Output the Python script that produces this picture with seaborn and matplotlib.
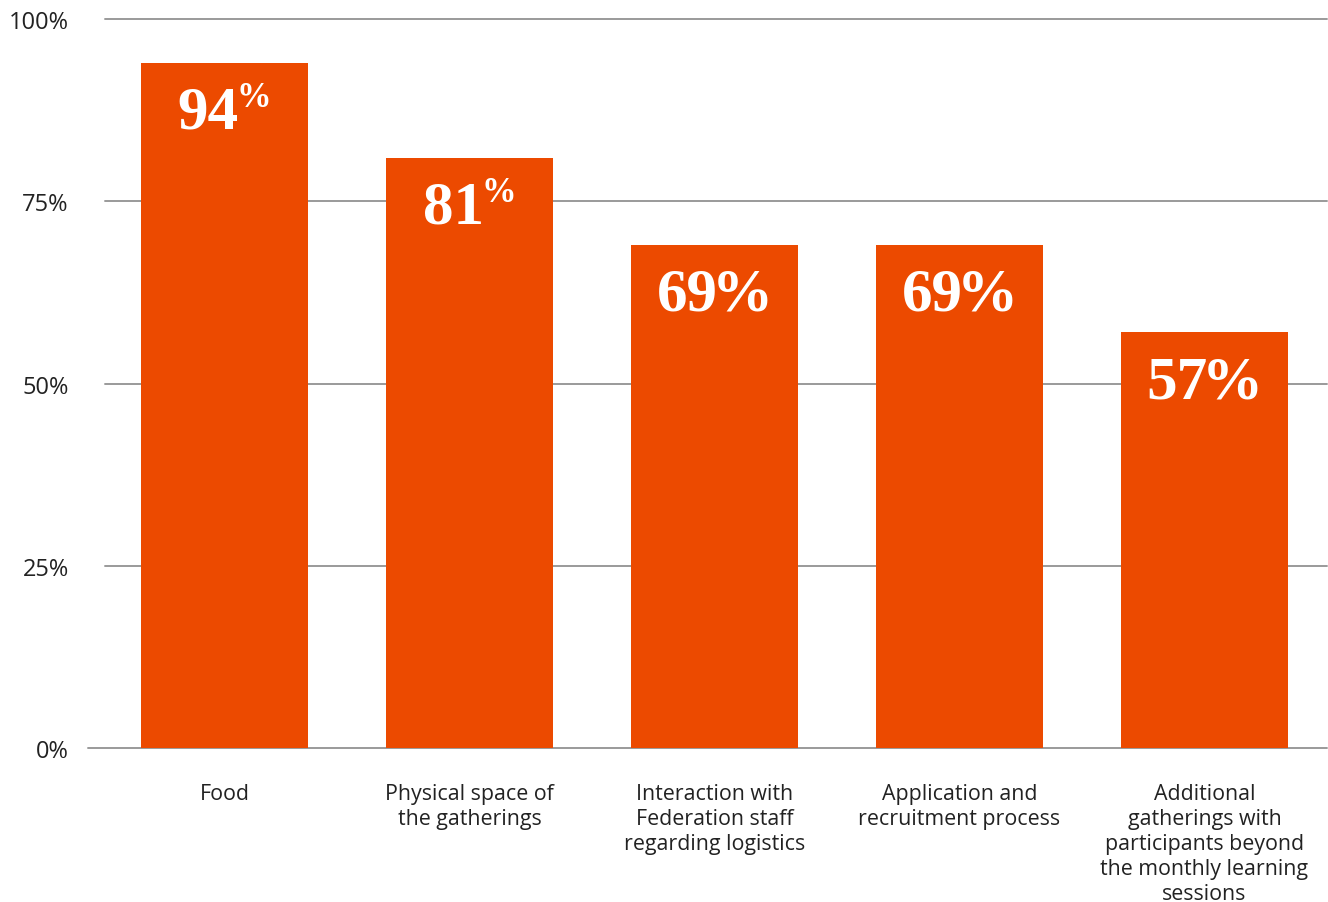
import matplotlib
matplotlib.use("Agg")
import matplotlib.pyplot as plt
import seaborn as sns
import pandas as pd

# Share of participants satisfied with each aspect of the program
categories = [
    "Food",
    "Physical space of\nthe gatherings",
    "Interaction with\nFederation staff\nregarding logistics",
    "Application and\nrecruitment process",
    "Additional\ngatherings with\nparticipants beyond\nthe monthly learning\nsessions",
]
values = [94, 81, 69, 69, 57]
superscript_pct = [True, True, False, False, False]
yticks = [0, 25, 50, 75, 100]
ytick_labels = ["0%", "25%", "50%", "75%", "100%"]

BAR_COLOR = "#EC4A00"
GRID_COLOR = "#9a9a9a"
TEXT_COLOR = "#222222"

sns.set_theme(style="white")
plt.rcParams["font.family"] = ["Open Sans", "DejaVu Sans"]

W, H, DPI = 1328, 903, 100
fig = plt.figure(figsize=(W / DPI, H / DPI), dpi=DPI)
ax = fig.add_axes([102 / W, (H - 749) / H, 1225 / W, (749 - 20) / H])

df = pd.DataFrame({"category": categories, "value": values})
sns.barplot(data=df, x="category", y="value", color=BAR_COLOR, saturation=1,
            width=0.68, ax=ax, zorder=3, edgecolor="none")

ax.set_xlim(-0.5, len(categories) - 0.5)
ax.set_ylim(0, 100)
ax.set_yticks(yticks)
ax.set_yticklabels(ytick_labels)
ax.set_xlabel("")
ax.set_ylabel("")
for s in ax.spines.values():
    s.set_visible(False)

# horizontal gridlines (the 25–100 ones start a little right of the axis)
for yv in yticks[1:]:
    ax.plot([0.0022, 1.0], [yv, yv], transform=ax.get_yaxis_transform(),
            color=GRID_COLOR, lw=1.4, zorder=1, clip_on=False)
# baseline extends a bit further left
ax.plot([-14 / 1225, 1.0], [0, 0], transform=ax.get_yaxis_transform(),
        color=GRID_COLOR, lw=1.4, zorder=1, clip_on=False)

ax.tick_params(axis="y", length=0, pad=24, labelsize=17, labelcolor=TEXT_COLOR)
ax.tick_params(axis="x", length=0, pad=25, labelsize=15.4, labelcolor=TEXT_COLOR)
for lab in ax.get_xticklabels():
    lab.set_linespacing(1.25)
    lab.set_horizontalalignment("center")
    lab.set_verticalalignment("top")

# value labels: bold serif, percent sign either raised or inline
serif = ["Liberation Serif", "DejaVu Serif"]
main_size = 44
sup_size = 25
labels = []
for i, (v, sup) in enumerate(zip(values, superscript_pct)):
    num = ax.annotate(f"{v}", (i, v), xytext=(0, -65), textcoords="offset pixels",
                      ha="left", va="baseline", color="white", fontsize=main_size,
                      fontweight="bold", family=serif, zorder=5)
    if sup:
        pct = ax.annotate("%", (i, v), xytext=(0, -43), textcoords="offset pixels",
                          ha="left", va="baseline", color="white", fontsize=sup_size,
                          fontweight="bold", family=serif, zorder=5)
    else:
        pct = ax.annotate("%", (i, v), xytext=(0, -65), textcoords="offset pixels",
                          ha="left", va="baseline", color="white", fontsize=main_size,
                          fontweight="bold", family=serif, zorder=5)
    labels.append((num, pct, sup))

fig.canvas.draw()
renderer = fig.canvas.get_renderer()
for num, pct, sup in labels:
    w1 = num.get_window_extent(renderer).width
    w2 = pct.get_window_extent(renderer).width
    gap = -2 if sup else -6
    total = w1 + gap + w2
    num.xyann = (-total / 2, num.xyann[1])
    pct.xyann = (-total / 2 + w1 + gap, pct.xyann[1])

fig.savefig("out.png", dpi=DPI, facecolor="white")
